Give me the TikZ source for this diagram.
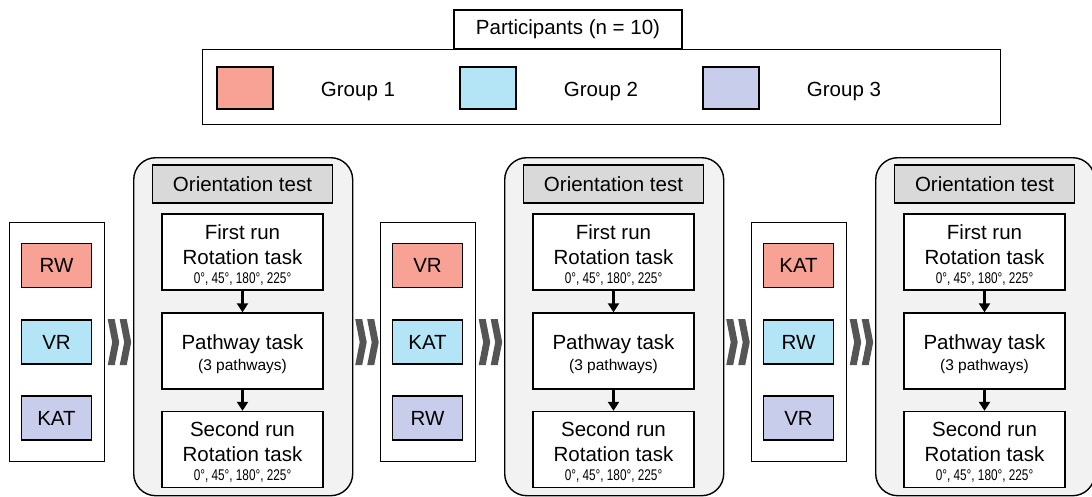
\documentclass[tikz,border=0pt]{standalone}
\usepackage{fontspec}
\setmainfont{Liberation Sans}
\usetikzlibrary{calc,arrows.meta}

\definecolor{grpA}{HTML}{F7A295}
\definecolor{grpB}{HTML}{B3E5F7}
\definecolor{grpC}{HTML}{C9CDEC}
\definecolor{hdrgray}{HTML}{D9D9D9}
\definecolor{panelgray}{HTML}{F2F2F2}
\definecolor{chevgray}{HTML}{555555}

\newcommand\bigtxt{\fontsize{20.5}{25}\selectfont}
\newcommand\degtxt{\fontsize{15.5}{17}\selectfont}
\newcommand\midtxt{\fontsize{15.5}{19}\selectfont}
\newcommand\angles{\scalebox{0.76}[1]{\degtxt 0°, 45°, 180°, 225°}}
% extra room above the first line of a task box
\newcommand\topgap[1]{\rule{0pt}{#1pt}}

\tikzset{
  outline/.style={draw=black, line width=1.4pt},
  plainbox/.style={outline, fill=white, inner sep=0pt, font=\bigtxt, align=center},
  swatch/.style={outline, inner sep=0pt, font=\bigtxt},
  panelbox/.style={outline, fill=panelgray, rounded corners=22pt, inner sep=0pt,
    minimum width=219pt, minimum height=338pt, anchor=north west},
  hdrbox/.style={outline, fill=hdrgray, inner sep=0pt, font=\bigtxt,
    minimum width=180pt, minimum height=38pt},
  taskbox/.style={plainbox, minimum width=161pt, minimum height=76pt},
  flow/.style={-{Triangle[width=11pt,length=9pt]}, line width=3.6pt},
  chevrons/.pic={
    \fill[chevgray] (-11.5,-23) -- (-4.5,-23) -- (0,0) -- (-4.5,23)
      -- (-11.5,23) -- (-7,0) -- cycle;
    \fill[chevgray] (0.5,-23) -- (7.5,-23) -- (12,0) -- (7.5,23)
      -- (0.5,23) -- (5,0) -- cycle;
  }
}

\begin{document}
\begin{tikzpicture}[x=1pt, y=-1pt]
\useasboundingbox (0,0) rectangle (1092,496);

% legend of the three groups
\node[plainbox, minimum width=798pt, minimum height=75pt, anchor=north west]
  (legend) at (202,49) {};
\node[plainbox, minimum width=228pt, minimum height=39pt] (title) at (568,29.5)
  {Participants (n = 10)};
\foreach \i/\c in {1/grpA, 2/grpB, 3/grpC}{
  \node[swatch, fill=\c, minimum width=56pt, minimum height=42pt]
    (key\i) at ({245+243*(\i-1)},88) {};
  \node[font=\bigtxt] (keylab\i) at ({358+243*(\i-1)},91) {Group \i};
}

% three sessions: condition order followed by the orientation test
\foreach \k/\a/\b/\c in {0/RW/VR/KAT, 1/VR/KAT/RW, 2/KAT/RW/VR}{
  \pgfmathsetmacro\dx{371*\k}
  \node[outline, minimum width=95pt, minimum height=239pt, anchor=north west,
    inner sep=0pt] (L\k) at (9+\dx,222) {};
  \node[swatch, fill=grpA, minimum width=70pt, minimum height=44pt]
    (A\k) at (56.5+\dx,265.5) {\a};
  \node[swatch, fill=grpB, minimum width=70pt, minimum height=44pt]
    (B\k) at (56.5+\dx,342) {\b};
  \node[swatch, fill=grpC, minimum width=70pt, minimum height=44pt]
    (C\k) at (56.5+\dx,418) {\c};

  \node[panelbox] (P\k) at (133+\dx,157) {};
  \node[hdrbox] (H\k) at (242.5+\dx,184) {Orientation test};
  \node[taskbox] (T\k) at (242.5+\dx,252)
    {\topgap{21}First run\\Rotation task\\[-6pt]\angles};
  \node[taskbox] (W\k) at (242.5+\dx,351)
    {\topgap{20.5}Pathway task\\[-4pt]{\midtxt (3 pathways)}};
  \node[taskbox] (S\k) at (242.5+\dx,449.5)
    {\topgap{19}Second run\\Rotation task\\[-6pt]\angles};
  \draw[flow] (T\k.south) -- (W\k.north);
  \draw[flow] (W\k.south) -- (S\k.north);

  \pic at ($(L\k.east)!0.5!(L\k.east -| P\k.west)$) {chevrons};
}

% transitions between sessions
\pic at ($(P0.east |- L1.west)!0.5!(L1.west)$) {chevrons};
\pic at ($(P1.east |- L2.west)!0.5!(L2.west)$) {chevrons};
\end{tikzpicture}
\end{document}
